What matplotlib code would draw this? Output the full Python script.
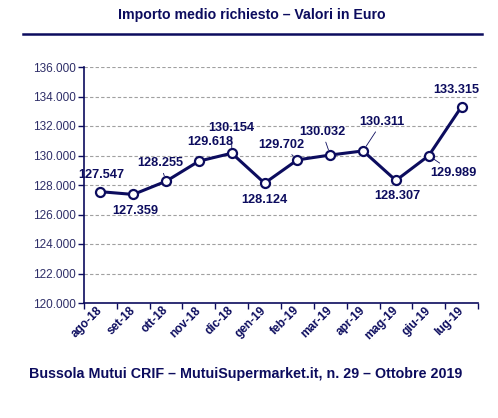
import matplotlib
matplotlib.use("Agg")
import matplotlib.pyplot as plt
from matplotlib.lines import Line2D

plt.rcParams['font.family'] = ['Liberation Sans', 'DejaVu Sans']

months = ["ago-18", "set-18", "ott-18", "nov-18", "dic-18", "gen-19",
          "feb-19", "mar-19", "apr-19", "mag-19", "giu-19", "lug-19"]
values = [127.547, 127.359, 128.255, 129.618, 130.154, 128.124,
          129.702, 130.032, 130.311, 128.307, 129.989, 133.315]
yticks = [120, 122, 124, 126, 128, 130, 132, 134, 136]

# label offsets in pixels (dx, dy) and whether to draw a leader line
label_pos = [(1, 17, False), (2, -17, False), (-6, 18, True), (11, 19, False),
             (0, 25, True), (0, -17, False), (-16, 15, True), (-8, 23, True),
             (19, 29, True), (1, -16, False), (25, -17, True), (-5, 17, False)]

NAVY = '#0c0c5e'
W, H = 498, 418
fig = plt.figure(figsize=(W / 100, H / 100), dpi=100)
ax = fig.add_axes([84 / W, 1 - 303 / H, (478 - 84) / W, (303 - 67) / H])

x = list(range(len(months)))
ax.plot(x, values, color=NAVY, lw=2.2, marker='o', ms=6.5,
        mfc='white', mec=NAVY, mew=1.6, zorder=3, clip_on=False)

for xi, v, (dx, dy, lead) in zip(x, values, label_pos):
    props = None
    if lead:
        props = dict(arrowstyle='-', color=NAVY, lw=0.6, shrinkA=1, shrinkB=4)
    ax.annotate(f"{v:.3f}", (xi, v), xytext=(dx, dy), textcoords='offset pixels',
                ha='center', va='center', fontsize=9.2, fontweight='bold',
                color=NAVY, arrowprops=props, zorder=4)

ax.set_xlim(-0.5, len(months) - 0.5)
ax.set_ylim(120, 136)
ax.set_yticks(yticks)
ax.set_yticklabels([f"{t}.000" for t in yticks], fontsize=8.5, color='#2e2e68')
ax.yaxis.grid(True, color='#a0a0a0', lw=0.8, ls=(0, (3, 2)))
ax.set_axisbelow(True)

ax.set_xticks([i - 0.5 for i in range(len(months) + 1)])
ax.set_xticklabels([])
ax.set_xticks(x, minor=True)
ax.set_xticklabels(months, minor=True, rotation=45, ha='right', va='center',
                   rotation_mode='anchor', fontsize=8.5, fontweight='bold', color=NAVY)
ax.tick_params(axis='x', which='minor', length=0, pad=4)
ax.tick_params(axis='x', which='major', length=4, color=NAVY, width=1)
ax.tick_params(axis='y', length=4, color=NAVY, width=1, pad=2)

for s in ['top', 'right']:
    ax.spines[s].set_visible(False)
for s in ['left', 'bottom']:
    ax.spines[s].set_color(NAVY)
    ax.spines[s].set_linewidth(1.2)

fig.text(252 / W, 1 - 15 / H, "Importo medio richiesto – Valori in Euro",
         ha='center', va='center', fontsize=10.2, fontweight='bold', color=NAVY)
fig.add_artist(Line2D([23 / W, 482 / W], [1 - 34 / H, 1 - 34 / H],
                      color=NAVY, lw=1.8, transform=fig.transFigure))
fig.text(246 / W, 1 - 374 / H,
         "Bussola Mutui CRIF – MutuiSupermarket.it, n. 29 – Ottobre 2019",
         ha='center', va='center', fontsize=10.3, fontweight='bold', color=NAVY)

fig.savefig("out.png", dpi=100)
